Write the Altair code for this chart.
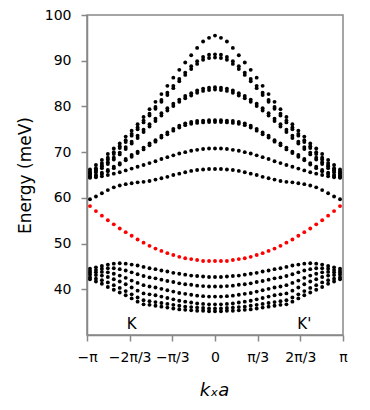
import altair as alt
import pandas as pd

# k grid (units of pi), k >= 0 half; the band structure is symmetric in k
K_HALF = [0.0, 0.0465, 0.0930, 0.1395, 0.1860, 0.2326, 0.2791, 0.3256, 0.3721, 0.4186,
          0.4651, 0.5116, 0.5581, 0.6047, 0.6512, 0.6977, 0.7442, 0.7907, 0.8372, 0.8837,
          0.9302, 0.9767]

# Energies (meV), from k = 0 outwards to the zone edge
BAND_A = [95.5, 95.0, 94.2, 92.8, 91.2, 89.6, 88.0, 86.3, 84.5, 82.7, 81.0, 79.4, 77.7, 76.1, 74.7, 73.4, 71.9, 70.8, 69.6, 68.3, 67.2, 66.2]
BAND_B1 = [91.4, 91.3, 90.8, 89.9, 88.8, 87.4, 86.0, 84.5, 83.0, 81.4, 79.9, 78.4, 76.9, 75.4, 74.0, 72.6, 71.3, 70.0, 68.8, 67.6, 66.5, 65.8]
BAND_B2 = [90.7, 90.6, 90.2, 89.3, 88.2, 86.9, 85.5, 84.0, 82.5, 81.0, 79.5, 78.0, 76.5, 75.0, 73.6, 72.2, 70.9, 69.6, 68.4, 67.2, 66.1, 65.4]
BAND_C1 = [84.2, 84.1, 83.9, 83.5, 82.9, 82.3, 81.5, 80.6, 79.6, 78.5, 77.3, 76.1, 74.9, 73.6, 72.3, 71.1, 69.9, 68.8, 67.8, 66.9, 66.0, 65.4]
BAND_C2 = [83.7, 83.6, 83.4, 83.0, 82.4, 81.8, 81.0, 80.1, 79.1, 78.0, 76.8, 75.6, 74.4, 73.1, 71.9, 70.7, 69.5, 68.4, 67.4, 66.5, 65.6, 65.0]
BAND_D1 = [77.0, 77.0, 76.9, 76.8, 76.6, 76.3, 75.8, 75.1, 74.3, 73.6, 72.6, 71.9, 71.0, 70.1, 69.4, 68.5, 67.6, 66.8, 66.1, 65.5, 65.0, 64.7]
BAND_D2 = [76.6, 76.6, 76.5, 76.4, 76.2, 75.9, 75.4, 74.7, 73.9, 73.2, 72.3, 71.5, 70.6, 69.8, 69.0, 68.2, 67.3, 66.5, 65.8, 65.2, 64.8, 64.5]
BAND_E = [70.8, 70.8, 70.7, 70.5, 70.3, 70.0, 69.7, 69.3, 68.9, 68.5, 68.0, 67.6, 67.2, 66.8, 66.4, 66.0, 65.6, 65.3, 65.0, 64.7, 64.5, 64.4]
BAND_F = [66.3, 66.3, 66.2, 66.1, 65.9, 65.6, 65.3, 65.0, 64.6, 64.3, 64.0, 63.7, 63.5, 63.4, 63.2, 63.0, 62.7, 62.3, 61.7, 61.0, 60.3, 59.7]
BAND_RED = [46.2, 46.2, 46.2, 46.4, 46.6, 46.8, 47.1, 47.5, 47.9, 48.4, 48.9, 49.5, 50.2, 50.9, 51.7, 52.5, 53.3, 54.2, 55.1, 56.1, 57.1, 58.2]
BAND_L1 = [42.7, 42.7, 42.8, 42.9, 43.0, 43.2, 43.4, 43.6, 43.9, 44.1, 44.4, 44.6, 44.9, 45.2, 45.4, 45.6, 45.7, 45.6, 45.4, 45.1, 44.8, 44.5]
BAND_L2 = [40.6, 40.6, 40.7, 40.8, 41.0, 41.1, 41.3, 41.6, 41.8, 42.1, 42.4, 42.6, 42.9, 43.3, 43.7, 44.1, 44.4, 44.6, 44.6, 44.5, 44.2, 44.0]
BAND_L3 = [38.4, 38.4, 38.5, 38.6, 38.8, 39.0, 39.2, 39.5, 39.8, 40.1, 40.4, 40.6, 40.9, 41.4, 41.9, 42.5, 43.0, 43.4, 43.7, 43.8, 43.7, 43.6]
BAND_L4 = [36.7, 36.7, 36.8, 36.9, 37.1, 37.3, 37.5, 37.8, 38.1, 38.4, 38.7, 38.9, 39.1, 39.7, 40.4, 41.1, 41.7, 42.2, 42.7, 43.0, 43.1, 43.2]
BAND_L5 = [35.8, 35.8, 35.9, 36.0, 36.1, 36.2, 36.4, 36.6, 36.8, 37.0, 37.2, 37.4, 37.6, 38.2, 38.9, 39.6, 40.3, 40.9, 41.5, 42.0, 42.3, 42.6]
BAND_L6 = [35.2, 35.2, 35.3, 35.3, 35.4, 35.5, 35.6, 35.8, 36.0, 36.2, 36.4, 36.6, 36.7, 37.3, 38.0, 38.7, 39.3, 39.9, 40.5, 41.2, 41.7, 42.2]

BANDS = {
    "A": BAND_A, "B1": BAND_B1, "B2": BAND_B2, "C1": BAND_C1, "C2": BAND_C2,
    "D1": BAND_D1, "D2": BAND_D2, "E": BAND_E, "F": BAND_F, "RED": BAND_RED,
    "L1": BAND_L1, "L2": BAND_L2, "L3": BAND_L3, "L4": BAND_L4, "L5": BAND_L5, "L6": BAND_L6,
}

X_TICKS = [-1, -2 / 3, -1 / 3, 0, 1 / 3, 2 / 3, 1]
X_TICK_LABELS = ["−π", "−2π/3", "−π/3", "0", "π/3", "2π/3", "π"]
Y_TICKS = [40, 50, 60, 70, 80, 90, 100]

VALLEY_K = [-2 / 3, 2 / 3]
VALLEY_E = [32.5, 32.5]
VALLEY_TEXT = ["K", "K'"]

FONT = "DejaVu Sans"

rows = []
for name, half in BANDS.items():
    ks = [-k for k in K_HALF[::-1]] + K_HALF[1:]
    es = half[::-1] + half[1:]
    for k, e in zip(ks, es):
        rows.append({"k": k, "E": e, "band": name, "c": "red" if name == "RED" else "black"})
df = pd.DataFrame(rows)

label_expr = " : ".join(
    f"abs(datum.value - ({v})) < 0.01 ? '{t}'" for v, t in zip(X_TICKS, X_TICK_LABELS)
) + " : ''"

xscale = alt.Scale(domain=[-1, 1], nice=False, zero=False)
yscale = alt.Scale(domain=[30, 100], nice=False, zero=False)

points = alt.Chart(df).mark_circle(size=15, opacity=1).encode(
    x=alt.X("k:Q", scale=xscale, axis=alt.Axis(
        values=X_TICKS, labelExpr=label_expr, title="kₓa", grid=False, labelFlush=False,
        tickSize=6, labelPadding=16, labelBaseline="middle", labelFontSize=14,
        labelFont=FONT, labelColor="#000000", titleFont=FONT, titleFontSize=18,
        titleFontStyle="italic", titleFontWeight="normal", titleColor="#000000",
        titleX=127, titleY=55, titleBaseline="middle",
        domainColor="#888888", tickColor="#888888", domainWidth=1.5, tickWidth=1.5)),
    y=alt.Y("E:Q", scale=yscale, axis=alt.Axis(
        values=Y_TICKS, title="Energy (meV)", grid=False, tickSize=6, labelPadding=10,
        labelFlush=False, labelFontSize=14, labelFont=FONT, labelColor="#000000", titleFont=FONT,
        titleFontSize=17, titleFontWeight="normal", titleColor="#000000",
        titleX=-62, titleY=160, titleBaseline="middle", titleAlign="center", titleAngle=270,
        domainColor="#888888", tickColor="#888888", domainWidth=1.5, tickWidth=1.5)),
    color=alt.Color("c:N", scale=alt.Scale(domain=["black", "red"], range=["#000000", "#ff0000"]), legend=None),
)

valley_df = pd.DataFrame({"k": VALLEY_K, "E": VALLEY_E, "t": VALLEY_TEXT})
labels = alt.Chart(valley_df).mark_text(
    fontSize=15, font=FONT, align="left", baseline="middle", dx=-3, color="#000000"
).encode(x=alt.X("k:Q", scale=xscale), y=alt.Y("E:Q", scale=yscale), text="t:N")

chart = alt.layer(points, labels).properties(
    width=256, height=320,
    autosize="none",
    padding={"left": 79, "top": 7, "right": 15, "bottom": 65},
).configure_view(stroke="#888888", strokeWidth=1.5)

chart.save("out.html", embed_options={"renderer": "svg", "actions": False})
